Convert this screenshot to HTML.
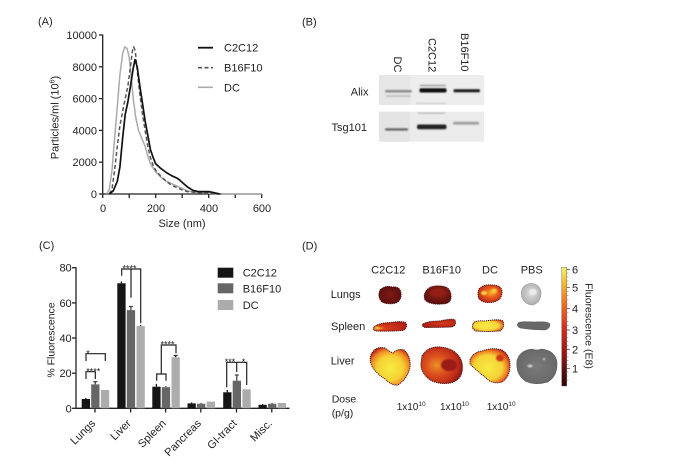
<!DOCTYPE html>
<html><head><meta charset="utf-8"><style>
html,body{margin:0;padding:0;background:#fff;}
svg{display:block;}
text{font-family:"Liberation Sans",Arial,sans-serif;fill:#222;}
</style></head><body>
<svg width="684" height="470" viewBox="0 0 684 470" xmlns="http://www.w3.org/2000/svg">
<defs>
<filter id="bl" x="-20%" y="-20%" width="140%" height="140%"><feGaussianBlur stdDeviation="0.7"/></filter>
<linearGradient id="cb" x1="0" y1="0" x2="0" y2="1">
<stop offset="0" stop-color="#f8f070"/><stop offset="0.12" stop-color="#f5c035"/><stop offset="0.3" stop-color="#ef7422"/>
<stop offset="0.5" stop-color="#d83020"/><stop offset="0.7" stop-color="#a01818"/><stop offset="0.86" stop-color="#5e1010"/><stop offset="1" stop-color="#2a0606"/>
</linearGradient>
<radialGradient id="gLC2" cx="0.5" cy="0.5" r="0.6"><stop offset="0" stop-color="#7e1a14"/><stop offset="1" stop-color="#5a0e0e"/></radialGradient>
<radialGradient id="gLB" cx="0.55" cy="0.35" r="0.65"><stop offset="0" stop-color="#a02818"/><stop offset="0.5" stop-color="#7a1812"/><stop offset="1" stop-color="#5a0e0e"/></radialGradient>
<radialGradient id="gLDC" cx="0.55" cy="0.45" r="0.6"><stop offset="0" stop-color="#f6b028"/><stop offset="0.45" stop-color="#e85a1c"/><stop offset="1" stop-color="#b82418"/></radialGradient>
<radialGradient id="gLP" cx="0.5" cy="0.45" r="0.6"><stop offset="0" stop-color="#e0e0e0"/><stop offset="1" stop-color="#a8a8a8"/></radialGradient>
<radialGradient id="gSC2" cx="0.15" cy="0.7" r="0.9"><stop offset="0" stop-color="#f0a030"/><stop offset="0.25" stop-color="#d83a1a"/><stop offset="1" stop-color="#b02018"/></radialGradient>
<radialGradient id="gSB" cx="0.6" cy="0.5" r="0.7"><stop offset="0" stop-color="#d83a1a"/><stop offset="1" stop-color="#a01c14"/></radialGradient>
<radialGradient id="gSDC" cx="0.45" cy="0.5" r="0.6"><stop offset="0" stop-color="#f8ec48"/><stop offset="0.65" stop-color="#f5d838"/><stop offset="1" stop-color="#d84a1a"/></radialGradient>
<radialGradient id="gLvC2" cx="0.5" cy="0.55" r="0.6"><stop offset="0" stop-color="#f8ec40"/><stop offset="0.55" stop-color="#f6d034"/><stop offset="0.8" stop-color="#f08a24"/><stop offset="1" stop-color="#c02818"/></radialGradient>
<radialGradient id="gLvB" cx="0.38" cy="0.5" r="0.65"><stop offset="0" stop-color="#ee9028"/><stop offset="0.4" stop-color="#dc501c"/><stop offset="0.8" stop-color="#bc2a18"/><stop offset="1" stop-color="#861612"/></radialGradient>
<radialGradient id="gLvDC" cx="0.45" cy="0.55" r="0.6"><stop offset="0" stop-color="#f8ea40"/><stop offset="0.6" stop-color="#f5d236"/><stop offset="0.82" stop-color="#ee7a22"/><stop offset="1" stop-color="#c02818"/></radialGradient>
<radialGradient id="gLvP" cx="0.5" cy="0.5" r="0.6"><stop offset="0" stop-color="#7a7a7a"/><stop offset="1" stop-color="#666"/></radialGradient>
</defs>

<!-- ================= Panel A ================= -->
<text x="38" y="25" font-size="11">(A)</text>
<g stroke="#222" stroke-width="1.3" fill="none">
<line x1="102.7" y1="34.5" x2="102.7" y2="194.5"/>
<line x1="102.7" y1="194" x2="262" y2="194"/>
<line x1="99" y1="35" x2="102.7" y2="35"/><line x1="99" y1="66.8" x2="102.7" y2="66.8"/>
<line x1="99" y1="98.6" x2="102.7" y2="98.6"/><line x1="99" y1="130.4" x2="102.7" y2="130.4"/>
<line x1="99" y1="162.2" x2="102.7" y2="162.2"/><line x1="99" y1="194" x2="102.7" y2="194"/>
<line x1="102.7" y1="194" x2="102.7" y2="198"/><line x1="129.2" y1="194" x2="129.2" y2="198"/>
<line x1="155.7" y1="194" x2="155.7" y2="198"/><line x1="182.2" y1="194" x2="182.2" y2="198"/>
<line x1="208.7" y1="194" x2="208.7" y2="198"/><line x1="235.2" y1="194" x2="235.2" y2="198"/>
<line x1="261.7" y1="194" x2="261.7" y2="198"/>
</g>
<g font-size="11" text-anchor="end">
<text x="97" y="39">10000</text><text x="97" y="70.8">8000</text><text x="97" y="102.6">6000</text>
<text x="97" y="134.4">4000</text><text x="97" y="166.2">2000</text><text x="97" y="198">0</text>
</g>
<g font-size="11" text-anchor="middle">
<text x="103" y="212">0</text><text x="156" y="212">200</text><text x="209" y="212">400</text><text x="262" y="212">600</text>
<text x="182" y="227">Size (nm)</text>
</g>
<text transform="translate(58.5,117.5) rotate(-90)" font-size="11" text-anchor="middle">Particles/ml (10<tspan font-size="7" dy="-4">6</tspan><tspan dy="4">)</tspan></text>
<polyline fill="none" stroke="#aaa" stroke-width="1.5" stroke-linejoin="round" points="106.7,194 109.3,189.2 112,170.2 114.6,138.4 117.3,106.5 119.9,74.8 122.6,54.1 124.7,46.9 127.1,48.5 129.2,57.3 131.3,77.9 133.2,98.6 135.8,117.7 138.5,130.4 142.5,139.9 145.1,146.3 147.8,155.8 150.4,163.8 155.7,171.7 161,177.3 166.3,181.3 171.6,183.7 176.9,186.1 182.2,188.4 187.5,190.8 195.4,192.4 208.7,193.2 221.9,194 261.7,194"/>
<polyline fill="none" stroke="#555" stroke-width="1.5" stroke-dasharray="4,2.5" stroke-linejoin="round" points="109.3,194 112,189.2 114.6,170.2 117.3,146.3 119.9,125.6 123.9,105 127.9,85.9 130.5,66.8 132.4,50.9 133.7,46.9 135.3,50.9 137.2,70 139.8,93.8 142.5,114.5 145.1,130.4 147.8,146.3 150.4,157.4 153.1,165.4 155.7,170.2 161,176.5 166.3,181.3 171.6,185.3 176.9,187.6 182.2,190 187.5,191.6 195.4,192.4 208.7,193.2 221.9,194"/>
<polyline fill="none" stroke="#111" stroke-width="1.7" stroke-linejoin="round" points="109.3,194 113.3,190.8 117.3,181.3 119.9,167 122.6,138.4 125.2,114.5 127.9,101.8 130.5,85.9 133.2,68.4 135,59.6 137.2,66.8 139.8,85.9 142.5,103.4 145.1,120.9 147.8,135.2 150.4,149.5 153.1,157.4 155.7,163.8 161,168.6 166.3,172.5 171.6,175.7 176.9,178.1 179.6,180 183.5,183.5 187.5,187 192.8,190.3 198.1,191.6 208.7,191.6 214,192.7 219.3,194"/>
<line x1="198" y1="47.7" x2="213" y2="47.7" stroke="#111" stroke-width="1.8"/>
<line x1="198" y1="67.7" x2="213" y2="67.7" stroke="#555" stroke-width="1.6" stroke-dasharray="4,2.5"/>
<line x1="198" y1="87.3" x2="213" y2="87.3" stroke="#aaa" stroke-width="1.6"/>
<g font-size="11"><text x="224" y="51.7">C2C12</text><text x="224" y="71.7">B16F10</text><text x="224" y="91.3">DC</text></g>

<!-- ================= Panel B ================= -->
<text x="302" y="25.5" font-size="11">(B)</text>
<g font-size="11">
<text transform="translate(394,56.5) rotate(90)">DC</text>
<text transform="translate(428.7,38) rotate(90)">C2C12</text>
<text transform="translate(461,33) rotate(90)">B16F10</text>
<text x="368.5" y="95.5" text-anchor="end">Alix</text>
<text x="367" y="131" text-anchor="end">Tsg101</text>
</g>
<rect x="379" y="75" width="105" height="30" fill="#ededed"/>
<rect x="379" y="75" width="31" height="30" fill="#e6e6e6"/>
<rect x="379" y="111.7" width="105" height="30" fill="#ebebeb"/>
<rect x="379" y="111.7" width="31" height="30" fill="#e4e4e4"/>
<g filter="url(#bl)">
<rect x="385" y="90" width="27" height="2.5" rx="1.2" fill="#8a8a8a"/>
<rect x="386" y="95.2" width="25" height="1.8" fill="#c0c0c0"/>
<rect x="419.5" y="88.3" width="27" height="4.2" rx="1.5" fill="#111"/>
<rect x="420" y="84.8" width="26" height="1.4" fill="#9a9a9a"/>
<rect x="453.5" y="89.3" width="26.5" height="3" rx="1.2" fill="#151515"/>
<rect x="416" y="103" width="30" height="0.8" fill="#bbb"/>
<rect x="385" y="128.3" width="23" height="2.3" rx="1" fill="#666"/>
<rect x="417" y="124.5" width="29.5" height="4.8" rx="2" fill="#222"/>
<rect x="418" y="112.5" width="27" height="1.3" fill="#b5b5b5"/>
<rect x="453" y="121.8" width="26" height="2.8" rx="1.2" fill="#a0a0a0"/>
</g>

<!-- ================= Panel C ================= -->
<text x="39" y="249" font-size="11">(C)</text>
<g stroke="#222" stroke-width="1.3" fill="none">
<line x1="76" y1="267.2" x2="76" y2="408.9"/>
<line x1="76" y1="408.3" x2="289.5" y2="408.3"/>
<line x1="72" y1="267.7" x2="76" y2="267.7"/><line x1="72" y1="302.9" x2="76" y2="302.9"/>
<line x1="72" y1="338" x2="76" y2="338"/><line x1="72" y1="373.2" x2="76" y2="373.2"/>
<line x1="72" y1="408.3" x2="76" y2="408.3"/>
<line x1="95" y1="408.3" x2="95" y2="412.5"/><line x1="130.6" y1="408.3" x2="130.6" y2="412.5"/>
<line x1="165.6" y1="408.3" x2="165.6" y2="412.5"/><line x1="200.8" y1="408.3" x2="200.8" y2="412.5"/>
<line x1="236.5" y1="408.3" x2="236.5" y2="412.5"/><line x1="271.8" y1="408.3" x2="271.8" y2="412.5"/>
</g>
<g font-size="11" text-anchor="end">
<text x="71.7" y="271.7">80</text><text x="71.7" y="306.9">60</text><text x="71.7" y="342">40</text>
<text x="71.7" y="377.2">20</text><text x="71.7" y="412.3">0</text>
</g>
<text transform="translate(54.5,340) rotate(-90)" font-size="10.5" text-anchor="middle">% Fluorescence</text>
<g font-size="11" text-anchor="end">
<text transform="translate(96,424) rotate(-45)">Lungs</text>
<text transform="translate(131.6,424) rotate(-45)">Liver</text>
<text transform="translate(166.6,424) rotate(-45)">Spleen</text>
<text transform="translate(201.8,424) rotate(-45)">Pancreas</text>
<text transform="translate(237.5,424) rotate(-45)">GI-tract</text>
<text transform="translate(272.8,424) rotate(-45)">Misc.</text>
</g>
<g stroke-width="1.3">
<g stroke="#111"><line x1="85.8" y1="399" x2="85.8" y2="398"/><line x1="121.4" y1="283.3" x2="121.4" y2="281.5"/><line x1="156.4" y1="386.7" x2="156.4" y2="384"/><line x1="191.6" y1="403.4" x2="191.6" y2="402.4"/><line x1="227.3" y1="392.3" x2="227.3" y2="390"/><line x1="262.6" y1="404.8" x2="262.6" y2="404"/></g>
<g stroke="#444"><line x1="95.3" y1="384.4" x2="95.3" y2="381.7"/><line x1="130.9" y1="310.1" x2="130.9" y2="306.5"/><line x1="165.9" y1="387.2" x2="165.9" y2="386"/><line x1="201.1" y1="403.7" x2="201.1" y2="402.8"/><line x1="236.8" y1="380.7" x2="236.8" y2="375"/><line x1="272.1" y1="403.7" x2="272.1" y2="402.8"/>
<line x1="234.8" y1="375" x2="238.8" y2="375"/><line x1="128.9" y1="306.5" x2="132.9" y2="306.5"/><line x1="93.3" y1="381.7" x2="97.3" y2="381.7"/></g>
<g stroke="#222"><line x1="175.6" y1="357.3" x2="175.6" y2="355.5"/><line x1="173.6" y1="355.5" x2="177.6" y2="355.5"/><line x1="140.6" y1="326" x2="140.6" y2="325"/></g>
</g>
<g fill="#151515">
<rect x="81.7" y="399" width="8.3" height="9.3"/><rect x="117.3" y="283.3" width="8.3" height="125"/>
<rect x="152.3" y="386.7" width="8.3" height="21.6"/><rect x="187.5" y="403.4" width="8.3" height="4.9"/>
<rect x="223.2" y="392.3" width="8.3" height="16"/><rect x="258.5" y="404.8" width="8.3" height="3.5"/>
</g>
<g fill="#666">
<rect x="91.2" y="384.4" width="8.3" height="23.9"/><rect x="126.8" y="310.1" width="8.3" height="98.2"/>
<rect x="161.8" y="387.2" width="8.3" height="21.1"/><rect x="197" y="403.7" width="8.3" height="4.6"/>
<rect x="232.7" y="380.7" width="8.3" height="27.6"/><rect x="268" y="403.7" width="8.3" height="4.6"/>
</g>
<g fill="#acacac">
<rect x="100.9" y="390" width="8.3" height="18.3"/><rect x="136.5" y="326" width="8.3" height="82.3"/>
<rect x="171.5" y="357.3" width="8.3" height="51"/><rect x="206.7" y="401.6" width="8.3" height="6.7"/>
<rect x="242.4" y="389.3" width="8.3" height="19"/><rect x="277.7" y="403" width="8.3" height="5.3"/>
</g>
<g stroke="#222" stroke-width="1.2" fill="none">
<polyline points="86,361 86,353.7 105.3,353.7 105.3,361"/>
<polyline points="86,379 86,371.7 95.3,371.7 95.3,379"/>
<polyline points="121.7,275.7 121.7,269 140.7,269 140.7,323.3"/>
<line x1="131" y1="269" x2="131" y2="297.7"/>
<polyline points="156.7,380.7 156.7,374 166,374 166,380.7"/>
<polyline points="161.3,374 161.3,345 176,345 176,353.3"/>
<polyline points="226.7,387.3 226.7,362.3 246.7,362.3 246.7,385"/>
<line x1="236.7" y1="362.3" x2="236.7" y2="372"/>
</g>
<g font-size="9" text-anchor="middle">
<text x="88" y="356.3">*</text>
<text x="93.3" y="374.3">****</text>
<text x="129.5" y="271.7">****</text>
<text x="167.5" y="347.7">****</text>
<text x="230" y="365">***</text>
<text x="243.5" y="365">*</text>
</g>
<rect x="217.7" y="267.7" width="15.6" height="10" fill="#151515"/>
<rect x="217.7" y="283.3" width="15.6" height="10" fill="#666"/>
<rect x="217.7" y="300" width="15.6" height="10" fill="#acacac"/>
<g font-size="11"><text x="242.7" y="276.7">C2C12</text><text x="242.7" y="292.3">B16F10</text><text x="242.7" y="309">DC</text></g>

<!-- ================= Panel D ================= -->
<text x="302" y="249.5" font-size="11">(D)</text>
<g font-size="11" text-anchor="middle">
<text x="388.3" y="273.3">C2C12</text><text x="441.7" y="273.3">B16F10</text>
<text x="490" y="273.3">DC</text><text x="531.7" y="273.3">PBS</text>
</g>
<g font-size="11">
<text x="330.7" y="298">Lungs</text><text x="331" y="330">Spleen</text><text x="330.7" y="364.7">Liver</text>
<text x="331.7" y="402.3" font-size="10.5">Dose</text><text x="331.7" y="416.7" font-size="10.5">(p/g)</text>
</g>
<g font-size="10">
<text x="396.7" y="410">1x10<tspan font-size="6.5" dy="-4">10</tspan></text>
<text x="440" y="410">1x10<tspan font-size="6.5" dy="-4">10</tspan></text>
<text x="486.7" y="410">1x10<tspan font-size="6.5" dy="-4">10</tspan></text>
</g>
<g stroke="#3a0808" stroke-width="0.9" stroke-dasharray="1.2,0.8">
<path d="M380,290 Q385,285 392,287 Q400,286 401,293 Q402,300 396,303 Q388,305 382,302 Q377,297 380,290 Z" fill="url(#gLC2)"/>
<path d="M426,291 Q430,285 440,286 Q450,286 451,295 Q452,304 442,304 Q430,305 425,300 Q423,295 426,291 Z" fill="url(#gLB)"/>
<path d="M479,289 Q483,284 492,285 Q502,285 502,292 Q502,300 494,302 Q484,304 479,299 Q477,294 479,289 Z" fill="url(#gLDC)"/>
<path d="M374,327 Q378,323 390,322.5 Q403,320.5 406,323 Q408,328 403,330.5 Q390,331.5 376,331 Q372,330 374,327 Z" fill="url(#gSC2)"/>
<path d="M423,324 Q428,321 440,321 Q452,318 455,320 Q457,325 452,327 Q440,327.5 425,327.5 Q421,326 423,324 Z" fill="url(#gSB)"/>
<path d="M473,324 Q474,320 485,321 Q500,318.5 503,321 Q505,328 500,331 Q488,332 476,331 Q471,329 473,324 Z" fill="url(#gSDC)"/>
<path d="M372,353 Q376,346 385,348 Q390,352 393,353 Q398,348 404,350 Q411,356 410,367 Q408,378 398,385 Q392,386 385,379 Q374,372 371,364 Q369,357 372,353 Z" fill="url(#gLvC2)"/>
<path d="M422,356 Q428,346 440,347 Q452,348 458,355 Q464,362 462,372 Q460,381 450,383 Q440,385 430,380 Q420,372 421,363 Z" fill="url(#gLvB)"/>
<path d="M470,360 Q473,352 482,351 Q492,347 502,350 Q510,355 510,365 Q510,377 502,382 Q492,385 485,377 Q476,370 470,364 Z" fill="url(#gLvDC)"/>
</g>
<g filter="url(#bl)">
<ellipse cx="484" cy="293" rx="3" ry="2" fill="#f6d040"/>
<ellipse cx="494" cy="291" rx="3" ry="2.5" fill="#f5c838"/>
<ellipse cx="377" cy="328" rx="2.5" ry="1.5" fill="#f5b838"/>
<ellipse cx="449" cy="365" rx="8" ry="6" fill="#9a1a14"/>
<ellipse cx="500" cy="358" rx="4" ry="3.5" fill="#d03818"/>
<ellipse cx="436" cy="293" rx="6" ry="3" fill="#951f16"/>
</g>
<path d="M523,287 Q528,282 535,284 Q542,287 541,295 Q540,303 533,305 Q525,305 522,298 Q520,292 523,287 Z" fill="url(#gLP)" stroke="#999" stroke-width="0.5"/>
<path d="M518,323 Q520,321 534,322 Q548,321 550,324 Q550,329 545,330 Q532,330 520,328 Q516,326 518,323 Z" fill="#686868" stroke="#555" stroke-width="0.5"/>
<path d="M517,360 Q520,350 532,349 Q537,351 541,349 Q555,350 557,362 Q558,376 548,382 Q535,386 525,381 Q515,374 517,360 Z" fill="url(#gLvP)" stroke="#555" stroke-width="0.5"/>
<g fill="#ddd" filter="url(#bl)"><ellipse cx="530" cy="366" rx="2.5" ry="1.2"/><ellipse cx="544" cy="359" rx="1.2" ry="1"/><ellipse cx="533" cy="292" rx="4" ry="3" fill="#eeeeee"/></g>
<rect x="561.7" y="267.3" width="5" height="118.7" fill="url(#cb)" stroke="#555" stroke-width="0.4"/>
<g stroke="#333" stroke-width="0.7">
<line x1="566.7" y1="269.3" x2="570" y2="269.3"/><line x1="566.7" y1="287.3" x2="570" y2="287.3"/>
<line x1="566.7" y1="308.3" x2="570" y2="308.3"/><line x1="566.7" y1="330" x2="570" y2="330"/>
<line x1="566.7" y1="349.3" x2="570" y2="349.3"/><line x1="566.7" y1="368.3" x2="570" y2="368.3"/>
</g>
<g stroke="#777" stroke-width="0.5">
<line x1="566.7" y1="273" x2="568.5" y2="273"/><line x1="566.7" y1="277" x2="568.5" y2="277"/><line x1="566.7" y1="281" x2="568.5" y2="281"/><line x1="566.7" y1="284" x2="568.5" y2="284"/>
<line x1="566.7" y1="291.5" x2="568.5" y2="291.5"/><line x1="566.7" y1="295.5" x2="568.5" y2="295.5"/><line x1="566.7" y1="299.8" x2="568.5" y2="299.8"/><line x1="566.7" y1="304" x2="568.5" y2="304"/>
<line x1="566.7" y1="312.6" x2="568.5" y2="312.6"/><line x1="566.7" y1="317" x2="568.5" y2="317"/><line x1="566.7" y1="321.3" x2="568.5" y2="321.3"/><line x1="566.7" y1="325.7" x2="568.5" y2="325.7"/>
<line x1="566.7" y1="333.9" x2="568.5" y2="333.9"/><line x1="566.7" y1="337.7" x2="568.5" y2="337.7"/><line x1="566.7" y1="341.6" x2="568.5" y2="341.6"/><line x1="566.7" y1="345.4" x2="568.5" y2="345.4"/>
<line x1="566.7" y1="353.1" x2="568.5" y2="353.1"/><line x1="566.7" y1="356.9" x2="568.5" y2="356.9"/><line x1="566.7" y1="360.7" x2="568.5" y2="360.7"/><line x1="566.7" y1="364.5" x2="568.5" y2="364.5"/>
<line x1="566.7" y1="372" x2="568.5" y2="372"/><line x1="566.7" y1="376" x2="568.5" y2="376"/><line x1="566.7" y1="380" x2="568.5" y2="380"/>
</g>
<g font-size="11" text-anchor="middle">
<text x="575" y="273.3">6</text><text x="575" y="291.3">5</text><text x="575" y="312.3">4</text>
<text x="575" y="334">3</text><text x="575" y="353.3">2</text><text x="575" y="372.3">1</text>
</g>
<text transform="translate(585.5,326) rotate(90)" font-size="10.5" text-anchor="middle">Fluorescence (E8)</text>
</svg>
</body></html>
